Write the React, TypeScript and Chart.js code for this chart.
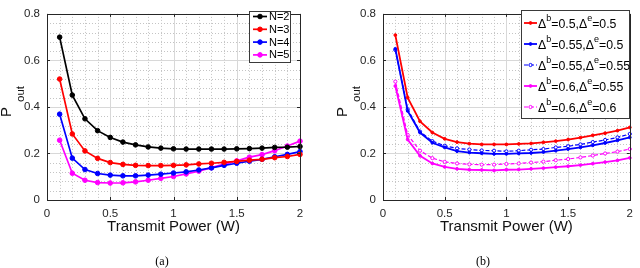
import React, { useEffect, useRef } from "react";
import { Chart, registerables } from "chart.js";

Chart.register(...registerables);

// ---------- data ----------
const powers = [0.1, 0.2, 0.3, 0.4, 0.5, 0.6, 0.7, 0.8, 0.9, 1.0, 1.1, 1.2, 1.3, 1.4, 1.5, 1.6, 1.7, 1.8, 1.9, 2.0];

const leftLabels = ["N=2", "N=3", "N=4", "N=5"];
const n2 = [0.70, 0.451, 0.349, 0.298, 0.269, 0.249, 0.237, 0.228, 0.223, 0.220, 0.219, 0.219, 0.219, 0.219, 0.220, 0.221, 0.223, 0.226, 0.227, 0.230];
const n3 = [0.52, 0.284, 0.211, 0.179, 0.161, 0.153, 0.149, 0.148, 0.148, 0.149, 0.151, 0.155, 0.158, 0.162, 0.166, 0.171, 0.175, 0.182, 0.187, 0.196];
const n4 = [0.369, 0.18, 0.131, 0.114, 0.107, 0.104, 0.104, 0.107, 0.111, 0.116, 0.121, 0.129, 0.138, 0.149, 0.158, 0.167, 0.175, 0.186, 0.196, 0.208];
const n5 = [0.257, 0.115, 0.085, 0.075, 0.073, 0.074, 0.078, 0.085, 0.093, 0.101, 0.112, 0.124, 0.139, 0.154, 0.168, 0.184, 0.195, 0.212, 0.232, 0.253];

const rightLabels = ["Δ^b=0.5,Δ^e=0.5", "Δ^b=0.55,Δ^e=0.5", "Δ^b=0.55,Δ^e=0.55", "Δ^b=0.6,Δ^e=0.55", "Δ^b=0.6,Δ^e=0.6"];
const d05_05 = [0.709, 0.44, 0.338, 0.29, 0.263, 0.249, 0.242, 0.239, 0.239, 0.239, 0.241, 0.243, 0.248, 0.253, 0.26, 0.268, 0.278, 0.287, 0.298, 0.312];
const d055_05 = [0.65, 0.383, 0.29, 0.246, 0.226, 0.21, 0.204, 0.201, 0.198, 0.198, 0.2, 0.202, 0.206, 0.212, 0.219, 0.226, 0.235, 0.245, 0.256, 0.269];
const d055_055 = [0.645, 0.39, 0.294, 0.253, 0.233, 0.222, 0.217, 0.213, 0.212, 0.209, 0.212, 0.216, 0.219, 0.226, 0.231, 0.239, 0.249, 0.258, 0.269, 0.284];
const d06_055 = [0.49, 0.26, 0.19, 0.157, 0.142, 0.134, 0.13, 0.129, 0.127, 0.13, 0.131, 0.134, 0.137, 0.141, 0.145, 0.15, 0.156, 0.163, 0.17, 0.181];
const d06_06 = [0.509, 0.28, 0.212, 0.18, 0.164, 0.157, 0.153, 0.152, 0.152, 0.155, 0.157, 0.161, 0.165, 0.171, 0.176, 0.183, 0.191, 0.2, 0.208, 0.219];

const xTickValues = [0, 0.5, 1, 1.5, 2];
const yTickValues = [0, 0.2, 0.4, 0.6, 0.8];
const xMinorStep = 0.1;
const yMinorStep = 0.04;

const xTitle = "Transmit Power (W)";
const yTitleMain = "P";
const yTitleSub = "out";

const SANS = '"Liberation Sans", Arial, sans-serif';
const SERIF = '"Liberation Serif", "Times New Roman", serif';
const AXIS_COLOR = "#262626";

function toPoints(ys: number[]) {
  return ys.map((y, i) => ({ x: powers[i], y }));
}

function drawRich(ctx: CanvasRenderingContext2D, text: string, x: number, y: number, size: number, supSize: number, raise: number) {
  let cx = x;
  for (let i = 0; i < text.length; i++) {
    const ch = text[i];
    if (ch === "^" && i + 1 < text.length) {
      const s = text[i + 1];
      ctx.font = `${supSize}px ${SANS}`;
      ctx.fillText(s, cx, y - raise);
      cx += ctx.measureText(s).width;
      i++;
      continue;
    }
    ctx.font = `${size}px ${SANS}`;
    ctx.fillText(ch, cx, y);
    cx += ctx.measureText(ch).width;
  }
}

const framePlugin = {
  id: "frame",
  beforeDatasetsDraw(chart: any) {
    const { ctx, chartArea: a, scales } = chart;
    const x = scales.x, y = scales.y;
    ctx.save();
    ctx.lineWidth = 1;
    ctx.strokeStyle = "#c4c4c4";
    ctx.setLineDash([1, 2]);
    const xMax = xTickValues[xTickValues.length - 1];
    const yMax = yTickValues[yTickValues.length - 1];
    for (let i = 1; i * xMinorStep < xMax - 1e-9; i++) {
      const v = i * xMinorStep;
      if (xTickValues.some((t) => Math.abs(t - v) < 1e-9)) continue;
      const px = Math.round(x.getPixelForValue(v)) + 0.5;
      ctx.beginPath(); ctx.moveTo(px, a.top); ctx.lineTo(px, a.bottom); ctx.stroke();
    }
    for (let i = 1; i * yMinorStep < yMax - 1e-9; i++) {
      const v = i * yMinorStep;
      if (yTickValues.some((t) => Math.abs(t - v) < 1e-9)) continue;
      const py = Math.round(y.getPixelForValue(v)) + 0.5;
      ctx.beginPath(); ctx.moveTo(a.left, py); ctx.lineTo(a.right, py); ctx.stroke();
    }
    ctx.setLineDash([]);
    ctx.strokeStyle = "#d8d8d8";
    xTickValues.slice(1, -1).forEach((v) => {
      const px = Math.round(x.getPixelForValue(v)) + 0.5;
      ctx.beginPath(); ctx.moveTo(px, a.top); ctx.lineTo(px, a.bottom); ctx.stroke();
    });
    yTickValues.slice(1, -1).forEach((v) => {
      const py = Math.round(y.getPixelForValue(v)) + 0.5;
      ctx.beginPath(); ctx.moveTo(a.left, py); ctx.lineTo(a.right, py); ctx.stroke();
    });
    ctx.restore();
  },
  afterDatasetsDraw(chart: any, _args: any, opts: any) {
    const { ctx, chartArea: a, scales } = chart;
    const x = scales.x, y = scales.y;
    ctx.save();
    ctx.strokeStyle = AXIS_COLOR;
    ctx.lineWidth = 1;
    ctx.strokeRect(Math.round(a.left) + 0.5, Math.round(a.top) + 0.5, Math.round(a.right - a.left), Math.round(a.bottom - a.top));
    const tl = 3;
    xTickValues.forEach((v) => {
      const px = Math.round(x.getPixelForValue(v)) + 0.5;
      ctx.beginPath();
      ctx.moveTo(px, a.bottom); ctx.lineTo(px, a.bottom - tl);
      ctx.moveTo(px, a.top); ctx.lineTo(px, a.top + tl);
      ctx.stroke();
    });
    yTickValues.forEach((v) => {
      const py = Math.round(y.getPixelForValue(v)) + 0.5;
      ctx.beginPath();
      ctx.moveTo(a.left, py); ctx.lineTo(a.left + tl, py);
      ctx.moveTo(a.right, py); ctx.lineTo(a.right - tl, py);
      ctx.stroke();
    });

    const lg = opts.legend;
    if (lg) {
      ctx.fillStyle = "#ffffff";
      ctx.fillRect(lg.x0, lg.y0, lg.x1 - lg.x0, lg.y1 - lg.y0);
      ctx.strokeStyle = "#3a3a3a";
      ctx.lineWidth = 1;
      ctx.strokeRect(lg.x0 + 0.5, lg.y0 + 0.5, lg.x1 - lg.x0, lg.y1 - lg.y0);
      chart.data.datasets.forEach((ds: any, i: number) => {
        const cy = lg.rowY + i * lg.rowGap;
        ctx.strokeStyle = ds.borderColor;
        ctx.lineWidth = ds.borderWidth;
        ctx.setLineDash(ds.borderDash || []);
        ctx.beginPath(); ctx.moveTo(lg.lineX0, cy); ctx.lineTo(lg.lineX1, cy); ctx.stroke();
        ctx.setLineDash([]);
        ctx.beginPath();
        ctx.arc((lg.lineX0 + lg.lineX1) / 2, cy, ds.pointRadius, 0, Math.PI * 2);
        ctx.fillStyle = ds.pointBackgroundColor;
        ctx.fill();
        ctx.lineWidth = 1;
        ctx.strokeStyle = ds.pointBorderColor;
        ctx.stroke();
        ctx.fillStyle = "#000000";
        ctx.textBaseline = "middle";
        drawRich(ctx, ds.label, lg.textX, cy + lg.textDy, lg.size, lg.supSize, lg.raise);
      });
    }

    ctx.fillStyle = "#111111";
    ctx.textBaseline = "alphabetic";
    ctx.textAlign = "center";
    ctx.font = `15px ${SANS}`;
    ctx.fillText(xTitle, (a.left + a.right) / 2, 231);

    ctx.textAlign = "left";
    ctx.save();
    ctx.translate(a.left - 36, 117);
    ctx.rotate(-Math.PI / 2);
    ctx.font = `15px ${SANS}`;
    ctx.fillText(yTitleMain, 0, 0);
    const pw = ctx.measureText(yTitleMain).width;
    ctx.font = `11.5px ${SANS}`;
    ctx.fillText(yTitleSub, pw + 5, 12.5);
    ctx.restore();

    ctx.textAlign = "center";
    ctx.font = `12px ${SERIF}`;
    ctx.fillStyle = "#000000";
    ctx.fillText(opts.caption, opts.captionX, 265);
    ctx.restore();
  },
};

function makeConfig(datasets: any[], padRight: number, yWidth: number, legend: any, caption: string, captionX: number): any {
  return {
    type: "line",
    data: { datasets },
    options: {
      responsive: false,
      animation: false,
      events: [],
      layout: { padding: { top: 5, right: padRight, left: 0, bottom: 0 } },
      plugins: {
        legend: { display: false },
        tooltip: { enabled: false },
        frame: { legend, caption, captionX },
      },
      scales: {
        x: {
          type: "linear",
          min: 0,
          max: 2,
          afterBuildTicks: (s: any) => { s.ticks = xTickValues.map((v) => ({ value: v })); },
          afterFit: (s: any) => { s.height = 68; },
          grid: { display: false, drawTicks: false },
          border: { display: false },
          ticks: {
            padding: 7,
            color: AXIS_COLOR,
            font: { family: SANS, size: 11.5 },
            maxRotation: 0,
            autoSkip: false,
            callback: (v: number) => String(Number(v.toFixed(2))),
          },
        },
        y: {
          type: "linear",
          min: 0,
          max: 0.8,
          afterBuildTicks: (s: any) => { s.ticks = yTickValues.map((v) => ({ value: v })); },
          afterFit: (s: any) => { s.width = yWidth; },
          grid: { display: false, drawTicks: false },
          border: { display: false },
          ticks: {
            padding: 7,
            color: AXIS_COLOR,
            font: { family: SANS, size: 11.5 },
            autoSkip: false,
            callback: (v: number) => String(Number(v.toFixed(2))),
          },
        },
      },
    },
    plugins: [framePlugin],
  };
}

function leftDatasets() {
  const series = [n2, n3, n4, n5];
  const colors = ["#000000", "#ff0000", "#0000ff", "#ff00ff"];
  return series.map((s, i) => ({
    label: leftLabels[i],
    data: toPoints(s),
    borderColor: colors[i],
    backgroundColor: colors[i],
    borderWidth: 1.7,
    pointRadius: 2.3,
    pointBackgroundColor: colors[i],
    pointBorderColor: colors[i],
    pointBorderWidth: 1,
    tension: 0,
    clip: false,
  }));
}

function rightDatasets() {
  const series = [d05_05, d055_05, d055_055, d06_055, d06_06];
  const colors = ["#ff0000", "#0000ff", "#0000ff", "#ff00ff", "#ff00ff"];
  const dashed = [false, false, true, false, true];
  return series.map((s, i) => ({
    label: rightLabels[i],
    data: toPoints(s),
    borderColor: colors[i],
    backgroundColor: colors[i],
    borderWidth: dashed[i] ? 1.2 : 1.8,
    borderDash: dashed[i] ? [4, 2] : [],
    pointRadius: dashed[i] ? 1.6 : 1.4,
    pointBackgroundColor: dashed[i] ? "#ffffff" : colors[i],
    pointBorderColor: colors[i],
    pointBorderWidth: 1,
    tension: 0,
    clip: false,
  }));
}

function ChartCanvas({ config }: { config: () => any }) {
  const ref = useRef<HTMLCanvasElement | null>(null);
  useEffect(() => {
    if (!ref.current) return;
    const chart = new Chart(ref.current, config());
    return () => chart.destroy();
  }, []);
  return <canvas ref={ref} width={320} height={268} style={{ display: "block", width: 320, height: 268 }} />;
}

export default function App() {
  useEffect(() => {
    document.body.style.margin = "0";
    document.body.style.background = "#ffffff";
  }, []);
  const leftLegend = { x0: 249, y0: 11, x1: 290, y1: 62, rowY: 16.5, rowGap: 12.8, lineX0: 253, lineX1: 267, textX: 269, textDy: 0.5, size: 11, supSize: 8, raise: 5 };
  const rightLegend = { x0: 201, y0: 10, x1: 309, y1: 118, rowY: 23, rowGap: 21, lineX0: 204, lineX1: 217, textX: 218, textDy: 1.5, size: 12.3, supSize: 9, raise: 6 };
  return (
    <div style={{ position: "fixed", left: 0, top: 0, width: 640, height: 268, display: "flex", background: "#fff" }}>
      <ChartCanvas config={() => makeConfig(leftDatasets(), 20, 47, leftLegend, "(a)", 162)} />
      <ChartCanvas config={() => makeConfig(rightDatasets(), 4, 63, rightLegend, "(b)", 163)} />
    </div>
  );
}
